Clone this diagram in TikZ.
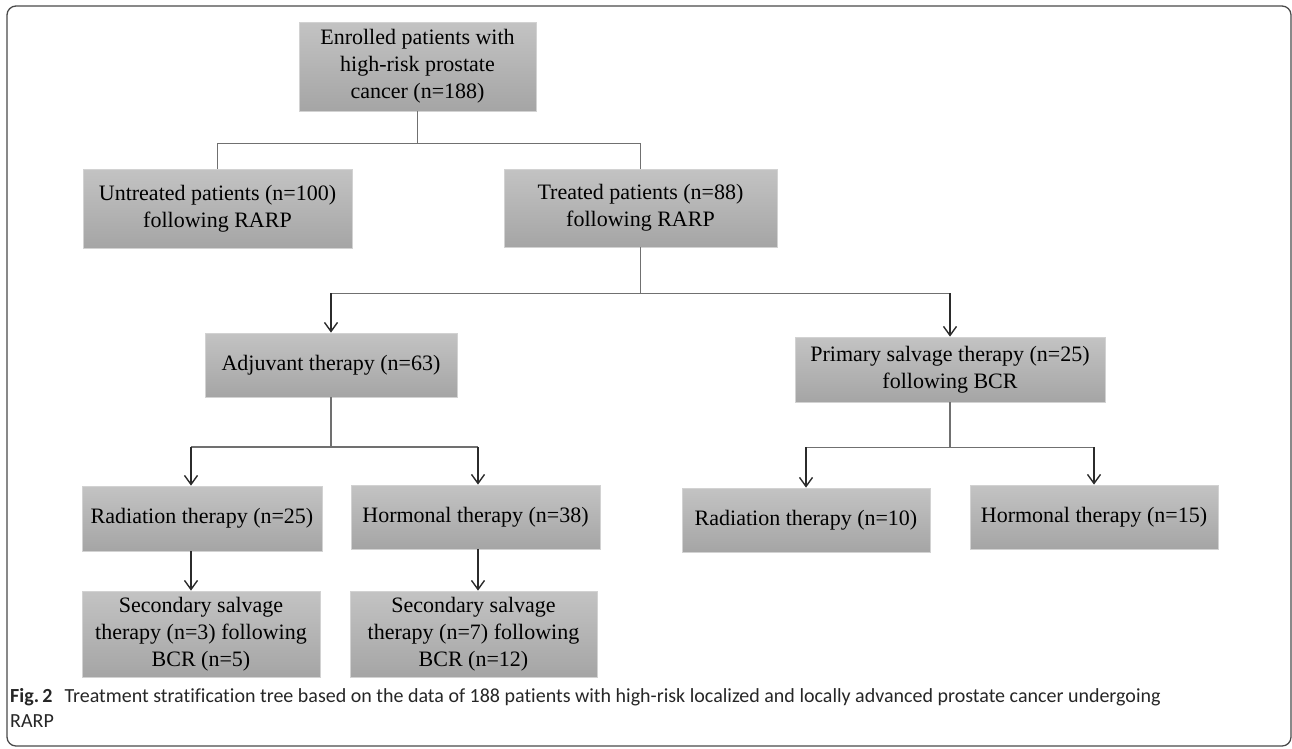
\documentclass[tikz,border=0pt]{standalone}
\usepackage{fontspec}
\setmainfont{Liberation Serif}
\newfontfamily\capfont[Ligatures=NoCommon]{Carlito}
\usetikzlibrary{arrows.meta}
\definecolor{boxtop}{HTML}{C3C3C3}
\definecolor{boxbot}{HTML}{A5A5A5}
\definecolor{boxedge}{HTML}{D2D2D2}
\definecolor{linegray}{HTML}{707070}
\definecolor{arrdark}{HTML}{2B2B2B}
\definecolor{framecol}{HTML}{4A4A4A}
\tikzset{
 box/.style={draw=boxedge, line width=0.8pt, top color=boxtop, bottom color=boxbot,
   align=center, inner sep=0pt, font=\fontsize{22}{27}\selectfont, text=black},
 conn/.style={draw=linegray, line width=1.5pt},
 arr/.style={draw=arrdark, line width=1.4pt, -{Straight Barb[length=9pt,width=13pt]}},
 captext/.style={anchor=north west, align=left, inner sep=0pt, font=\capfont\fontsize{20}{25}\selectfont, text=black!85},
}
\begin{document}
\begin{tikzpicture}[x=1pt,y=-1pt]
\useasboundingbox (0,0) rectangle (1292,748);
\draw[framecol, line width=1.3pt, rounded corners=9pt] (7,6) rectangle (1291,746);

\node[box, minimum width=237pt, minimum height=89pt] (top) at (417.5,66.5) {Enrolled patients with\\high-risk prostate\\cancer (n=188)};
\node[box, minimum width=269pt, minimum height=79pt] (untr) at (217.5,208.5) {Untreated patients (n=100)\\following RARP};
\node[box, minimum width=273pt, minimum height=78pt] (treat) at (640.5,208) {Treated patients (n=88)\\following RARP};
\node[box, minimum width=252pt, minimum height=64pt] (adj) at (331,365) {Adjuvant therapy (n=63)};
\node[box, minimum width=310pt, minimum height=65pt] (prim) at (950,369.5) {Primary salvage therapy (n=25)\\following BCR};
\node[box, minimum width=240pt, minimum height=65pt] (rad25) at (202,518.5) {Radiation therapy (n=25)};
\node[box, minimum width=249pt, minimum height=64pt] (horm38) at (475.5,517) {Hormonal therapy (n=38)};
\node[box, minimum width=248pt, minimum height=64pt] (rad10) at (806,520) {Radiation therapy (n=10)};
\node[box, minimum width=248pt, minimum height=64pt] (horm15) at (1094,517) {Hormonal therapy (n=15)};
\node[box, minimum width=238pt, minimum height=86pt] (sec1) at (201,634) {Secondary salvage\\therapy (n=3) following\\BCR (n=5)};
\node[box, minimum width=247pt, minimum height=86pt] (sec2) at (473.5,634) {Secondary salvage\\therapy (n=7) following\\BCR (n=12)};

% level 1
\draw[conn] (top.south) -- ++(0,32) coordinate (j1);
\draw[conn] (j1) -| (untr.north);
\draw[conn] (j1) -| (treat.north);
% level 2
\draw[conn] (treat.south) -- ++(0,46) coordinate (j2);
\draw[conn] (j2 -| adj.north) -- (j2 -| prim.north);
\draw[arr] (j2 -| adj.north) -- (adj.north);
\draw[arr] (j2 -| prim.north) -- (prim.north);
% level 3 left
\draw[conn] (adj.south) -- ++(0,50) coordinate (j3);
\coordinate (a1) at (191,447);
\coordinate (a2) at (478,447);
\draw[conn] (a1) -- (a2);
\draw[arr] (a1) -- (a1 |- rad25.north);
\draw[arr] (a2) -- (a2 |- horm38.north);
% level 3 right
\draw[conn] (prim.south) -- ++(0,45) coordinate (j4);
\draw[conn] (j4 -| rad10.north) -- (j4 -| horm15.north);
\draw[arr] (j4 -| rad10.north) -- (rad10.north);
\draw[arr] (j4 -| horm15.north) -- (horm15.north);
% level 4
\draw[arr] (rad25.south -| a1) -- (sec1.north -| a1);
\draw[arr] (horm38.south -| a2) -- (sec2.north -| a2);

\node[captext] (cap) at (10,688) {\textbf{Fig.\,2}\hspace{0.6em}Treatment stratification tree based on the data of 188 patients with high-risk localized and locally advanced prostate cancer undergoing\\RARP};
\end{tikzpicture}
\end{document}
